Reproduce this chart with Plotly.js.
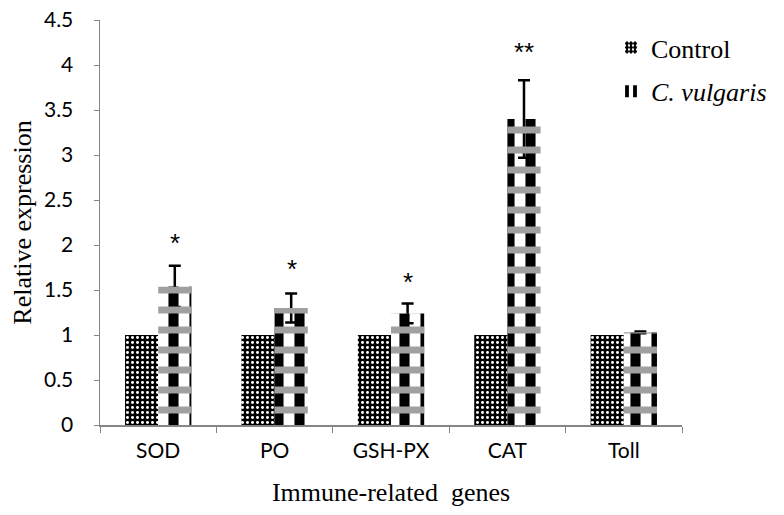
<!DOCTYPE html>
<html>
<head>
<meta charset="utf-8">
<script src="https://cdn.plot.ly/plotly-3.0.1.min.js"></script>
<style>html,body{margin:0;padding:0;background:#fff;}#chart{width:784px;height:515px;}</style>
</head>
<body>
<div id="chart"></div>
<script>
var genes = ["SOD", "PO", "GSH-PX", "CAT", "Toll"];
var controlValues = [1, 1, 1, 1, 1];
var vulgarisValues = [1.54, 1.30, 1.24, 3.40, 1.03];
var vulgarisErrors = [0.23, 0.16, 0.11, 0.43, 0.01];
var sigLabels = ["*", "*", "*", "**", ""];
var sigHeights = [2.02, 1.73, 1.59, 4.15, 0];
var yTicks = [0, 0.5, 1, 1.5, 2, 2.5, 3, 3.5, 4, 4.5];
var yTickText = ["0", "0.5", "1", "1.5", "2", "2.5", "3", "3.5", "4", "4.5"];

var serif = "Liberation Serif";
var sans = "Lato";

var traces = [
  {
    type: "bar", name: "Control", x: genes, y: controlValues, offsetgroup: "a", legendgroup: "a",
    marker: {color: "black", line: {width: 0},
      pattern: {shape: ".", bgcolor: "black", fgcolor: "white", size: 5, solidity: 0.28}}
  },
  {
    type: "bar", name: "<i>C. vulgaris</i>", x: genes, y: vulgarisValues, offsetgroup: "b", legendgroup: "b",
    marker: {color: "white", line: {width: 0},
      pattern: {shape: "|", bgcolor: "white", fgcolor: "black", size: 21, solidity: 0.48}},
    error_y: {type: "data", array: vulgarisErrors, visible: true, color: "black", thickness: 2.5, width: 6}
  },
  {
    type: "bar", name: "overlay", showlegend: false, hoverinfo: "skip", x: genes, y: vulgarisValues,
    offsetgroup: "b", legendgroup: "b",
    marker: {color: "rgba(0,0,0,0)", line: {width: 0},
      pattern: {shape: "-", bgcolor: "rgba(0,0,0,0)", fgcolor: "#a0a0a0", size: 20, solidity: 0.35}}
  }
];

var annotations = [];
for (var i = 0; i < genes.length; i++) {
  if (sigLabels[i]) {
    annotations.push({x: genes[i], y: sigHeights[i], xref: "x", yref: "y", xshift: 17,
      text: sigLabels[i], showarrow: false, font: {family: "Liberation Sans", size: 26, color: "black"}});
  }
}

var layout = {
  width: 784, height: 515,
  margin: {l: 100, r: 79, t: 20, b: 90},
  paper_bgcolor: "white", plot_bgcolor: "white",
  barmode: "group", bargap: 0.43, bargroupgap: 0,
  showlegend: true,
  legend: {x: 0.878, y: 0.99, xanchor: "left", yanchor: "top", bgcolor: "rgba(0,0,0,0)",
    traceorder: "grouped", tracegroupgap: 7,
    font: {family: serif, size: 26, color: "black"}, itemwidth: 30},
  xaxis: {
    type: "category", showline: true, linecolor: "#868686", linewidth: 1.5,
    ticks: "outside", tickson: "boundaries", ticklen: 6, tickcolor: "#868686",
    ticklabelstandoff: 6,
    tickfont: {family: sans, size: 21, color: "black"}, showgrid: false, zeroline: false,
    title: {text: "Immune-related  genes", font: {family: serif, size: 26, color: "black"}, standoff: 22}
  },
  yaxis: {
    range: [0, 4.5], tickvals: yTicks, ticktext: yTickText,
    showline: true, linecolor: "#868686", linewidth: 1.5,
    ticks: "outside", ticklen: 5, tickcolor: "#868686",
    ticklabelstandoff: 16,
    tickfont: {family: sans, size: 21, color: "black"}, showgrid: false, zeroline: false,
    title: {text: "Relative expression", font: {family: serif, size: 26, color: "black"}, standoff: 5}
  },
  annotations: annotations
};

Plotly.newPlot("chart", traces, layout, {displayModeBar: false, staticPlot: true});
</script>
</body>
</html>
